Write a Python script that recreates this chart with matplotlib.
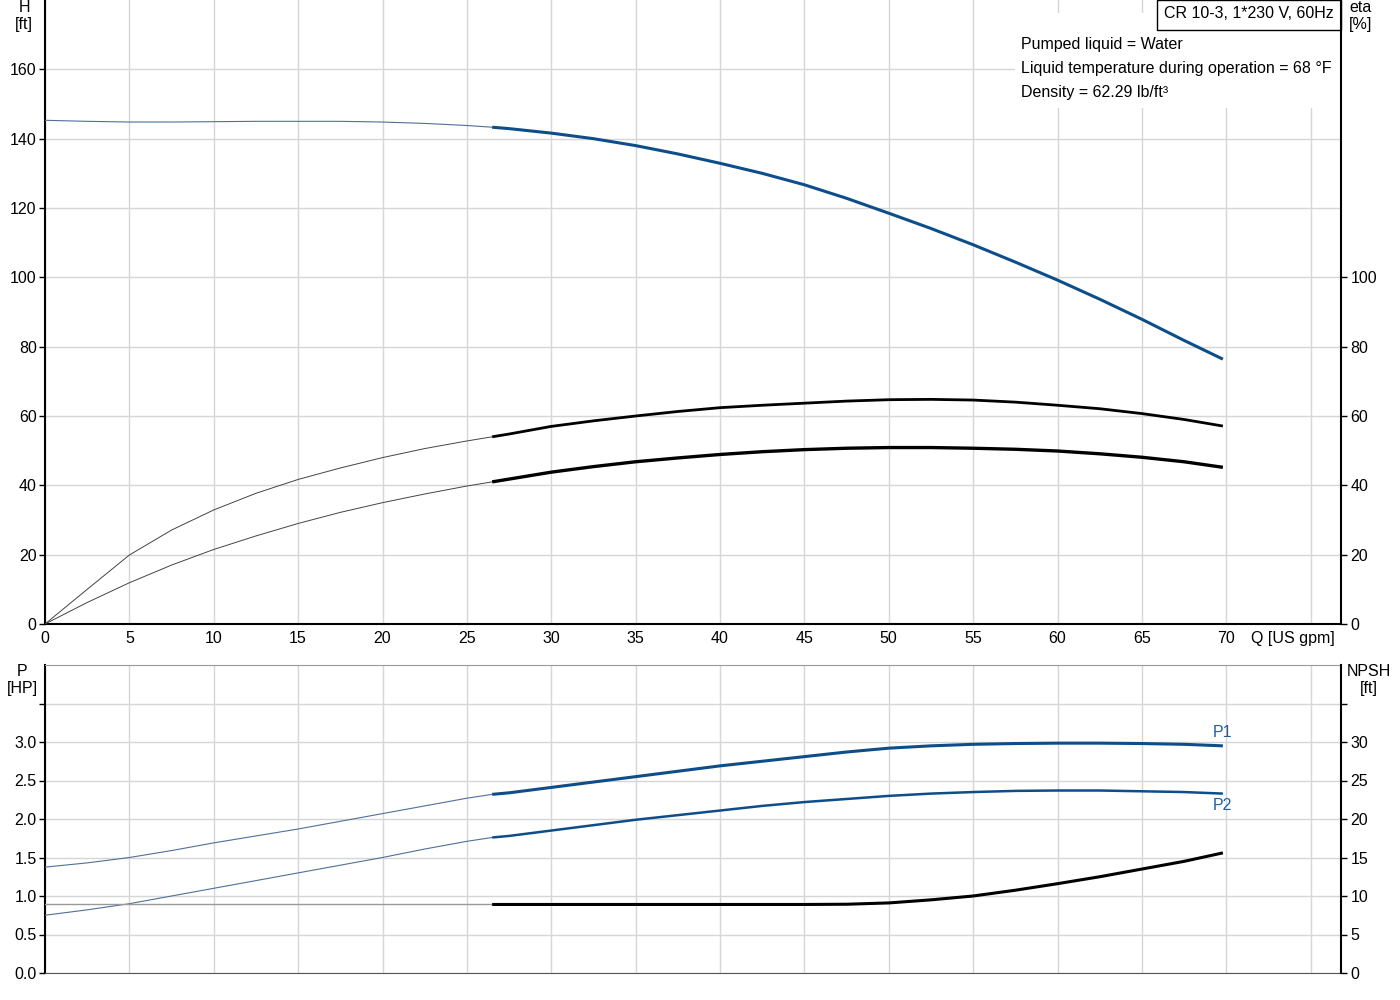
import matplotlib
matplotlib.use("Agg")
import matplotlib.pyplot as plt
from matplotlib.patches import Rectangle
import numpy as np

plt.rcParams['font.family'] = ['Liberation Sans', 'DejaVu Sans']
plt.rcParams['font.size'] = 11.5

# ---------------- data ----------------
q_split = 26.5

# Head curve H [ft]
q_head = [0, 2.5, 5, 7.5, 10, 12.5, 15, 17.5, 20, 22.5, 25, 26.5, 27.5, 30, 32.5, 35, 37.5,
          40, 42.5, 45, 47.5, 50, 52.5, 55, 57.5, 60, 62.5, 65, 67.5, 69.8]
h_head = [145.3, 145.0, 144.8, 144.8, 144.9, 145.0, 145.0, 145.0, 144.8, 144.4, 143.8, 143.3, 142.9,
          141.6, 140.0, 138.0, 135.6, 132.9, 130.0, 126.7, 122.8, 118.5, 114.1, 109.4, 104.4,
          99.2, 93.7, 87.9, 81.8, 76.4]

# Efficiency curves eta [%]
q_eta = [0, 2.5, 5, 7.5, 10, 12.5, 15, 17.5, 20, 22.5, 25, 26.5, 27.5, 30, 32.5, 35, 37.5,
         40, 42.5, 45, 47.5, 50, 52.5, 55, 57.5, 60, 62.5, 65, 67.5, 69.8]
eta_upper = [0, 10.0, 19.9, 27.1, 32.9, 37.7, 41.7, 45.0, 48.0, 50.6, 52.8, 54.0, 54.8, 57.0,
             58.6, 60.0, 61.3, 62.4, 63.1, 63.7, 64.3, 64.7, 64.8, 64.6, 64.0, 63.1, 62.1,
             60.7, 59.0, 57.1]
eta_lower = [0, 6.2, 11.9, 17.0, 21.5, 25.4, 29.0, 32.2, 35.0, 37.5, 39.8, 41.0, 41.8, 43.8,
             45.4, 46.8, 47.9, 48.9, 49.7, 50.3, 50.7, 50.9, 50.9, 50.7, 50.4, 49.9, 49.1,
             48.1, 46.8, 45.2]

# Power curves P [HP]
q_pow = [0, 2.5, 5, 7.5, 10, 12.5, 15, 17.5, 20, 22.5, 25, 26.5, 27.5, 30, 32.5, 35, 37.5,
         40, 42.5, 45, 47.5, 50, 52.5, 55, 57.5, 60, 62.5, 65, 67.5, 69.8]
p1 = [1.375, 1.43, 1.50, 1.59, 1.69, 1.78, 1.87, 1.97, 2.07, 2.17, 2.27, 2.32, 2.34, 2.41,
      2.48, 2.55, 2.62, 2.69, 2.75, 2.81, 2.87, 2.92, 2.95, 2.97, 2.98, 2.985, 2.985, 2.98,
      2.97, 2.95]
p2 = [0.75, 0.82, 0.90, 1.00, 1.10, 1.20, 1.30, 1.40, 1.50, 1.61, 1.71, 1.76, 1.78, 1.85,
      1.92, 1.99, 2.05, 2.11, 2.17, 2.22, 2.26, 2.30, 2.33, 2.35, 2.365, 2.37, 2.37, 2.36,
      2.35, 2.33]

# NPSH [ft]
q_npsh = [0, 10, 20, 26.5, 30, 35, 40, 45, 47.5, 50, 52.5, 55, 57.5, 60, 62.5, 65, 67.5, 69.8]
npsh = [8.9, 8.9, 8.9, 8.9, 8.9, 8.9, 8.9, 8.9, 8.93, 9.1, 9.5, 10.0, 10.75, 11.6, 12.5,
        13.5, 14.5, 15.6]

x_ticks = [0, 5, 10, 15, 20, 25, 30, 35, 40, 45, 50, 55, 60, 65, 70]
h_ticks = [0, 20, 40, 60, 80, 100, 120, 140, 160]
eta_ticks = [0, 20, 40, 60, 80, 100]
p_ticks = [0.0, 0.5, 1.0, 1.5, 2.0, 2.5, 3.0, 3.5]
p_labels = ['0.0', '0.5', '1.0', '1.5', '2.0', '2.5', '3.0', '']
npsh_ticks = [0, 5, 10, 15, 20, 25, 30, 35]
npsh_labels = ['0', '5', '10', '15', '20', '25', '30', '']

title_text = "CR 10-3, 1*230 V, 60Hz"
info_lines = ["Pumped liquid = Water",
              "Liquid temperature during operation = 68 °F",
              "Density = 62.29 lb/ft³"]

# ---------------- style ----------------
BLUE = '#0d4d8a'
BLUE_THIN = '#50709a'
LBL_BLUE = '#1f5f9f'
GRID = '#d6d6d6'
W, H = 1400, 1000
XMAX = 76.8
FS = 11.5


def split(q, v):
    q = np.asarray(q, float); v = np.asarray(v, float)
    a = q <= q_split
    b = q >= q_split
    return (q[a], v[a]), (q[b], v[b])


def fx(px):
    return px / W


def fy(py):
    return 1 - py / H


fig = plt.figure(figsize=(14, 10), dpi=100)

# ---------------- top plot ----------------
ax = fig.add_axes([fx(45), fy(624), fx(1341) - fx(45), fy(0) - fy(624)])
ax.set_xlim(0, XMAX)
ax.set_ylim(0, 180)
ax.set_xticks(x_ticks + [75])
ax.set_xticklabels([str(t) for t in x_ticks] + [''])
ax.set_yticks(h_ticks)
ax.grid(True, color=GRID, lw=1.0)
ax.set_axisbelow(True)
ax.spines['top'].set_visible(False)
ax.spines['right'].set_visible(False)
for s in ['left', 'bottom']:
    ax.spines[s].set_color('black')
    ax.spines[s].set_linewidth(1.5)
ax.tick_params(axis='y', length=4, width=1, pad=2, labelsize=FS)
ax.tick_params(axis='x', length=0, pad=5, labelsize=FS)

axe = ax.twinx()
axe.set_ylim(0, 180)
axe.set_yticks(eta_ticks)
axe.set_xlim(0, XMAX)
for s in ['top', 'left', 'bottom']:
    axe.spines[s].set_visible(False)
axe.spines['right'].set_color('black')
axe.spines['right'].set_linewidth(1.5)
axe.tick_params(axis='y', length=4, width=1, pad=3, labelsize=FS)

# white box behind parameters
ax.add_patch(Rectangle((fx(1015), fy(108)), fx(1341) - fx(1015), fy(13) - fy(108),
                       transform=fig.transFigure, facecolor='white', edgecolor='none', zorder=1))
# title box
ax.add_patch(Rectangle((fx(1157), fy(30)), fx(1341) - fx(1157), fy(0) - fy(30),
                       transform=fig.transFigure, facecolor='white', edgecolor='black',
                       lw=1.0, zorder=3, clip_on=False))
fig.text(fx(1249), fy(13), title_text, ha='center', va='center', fontsize=11.5, zorder=4)
for i, line in enumerate(info_lines):
    fig.text(fx(1021), fy(44 + 24 * i), line, ha='left', va='center', fontsize=11.5)

(a_q, a_v), (b_q, b_v) = split(q_head, h_head)
ax.plot(a_q, a_v, color=BLUE_THIN, lw=0.8, zorder=3)
ax.plot(b_q, b_v, color=BLUE, lw=2.2, zorder=3, solid_capstyle='butt')

for vals, lw in ((eta_upper, 2.0), (eta_lower, 2.4)):
    (a_q, a_v), (b_q, b_v) = split(q_eta, vals)
    axe.plot(a_q, a_v, color='#444444', lw=0.7, zorder=3)
    axe.plot(b_q, b_v, color='black', lw=lw, zorder=3, solid_capstyle='butt')

fig.text(fx(24), fy(0), "H\n[ft]", ha='center', va='top', fontsize=FS, linespacing=1.15)
fig.text(fx(1361), fy(0), "eta\n[%]", ha='center', va='top', fontsize=FS, linespacing=1.15)
fig.text(fx(1251), fy(639), "Q [US gpm]", ha='left', va='center', fontsize=FS)

# ---------------- bottom plot ----------------
bx = fig.add_axes([fx(45), fy(973), fx(1341) - fx(45), fy(665) - fy(973)])
bx.set_xlim(0, XMAX)
bx.set_ylim(0, 4.0)
bx.set_xticks(x_ticks + [75])
bx.set_xticklabels([])
bx.set_yticks(p_ticks)
bx.set_yticklabels(p_labels)
bx.grid(True, color=GRID, lw=1.0)
bx.set_axisbelow(True)
bx.spines['top'].set_color('#999999')
bx.spines['bottom'].set_color('#555555')
bx.spines['right'].set_visible(False)
bx.spines['left'].set_color('black')
bx.spines['left'].set_linewidth(1.5)
bx.tick_params(axis='y', length=4, width=1, pad=2, labelsize=FS)
bx.tick_params(axis='x', length=0)

bn = bx.twinx()
bn.set_ylim(0, 40)
bn.set_yticks(npsh_ticks)
bn.set_yticklabels(npsh_labels)
bn.set_xlim(0, XMAX)
for s in ['top', 'left', 'bottom']:
    bn.spines[s].set_visible(False)
bn.spines['right'].set_color('black')
bn.spines['right'].set_linewidth(1.5)
bn.tick_params(axis='y', length=4, width=1, pad=3, labelsize=FS)

for vals, lw in ((p1, 2.2), (p2, 1.8)):
    (a_q, a_v), (b_q, b_v) = split(q_pow, vals)
    bx.plot(a_q, a_v, color=BLUE_THIN, lw=0.8, zorder=3)
    bx.plot(b_q, b_v, color=BLUE, lw=lw, zorder=3, solid_capstyle='butt')

(a_q, a_v), (b_q, b_v) = split(q_npsh, npsh)
bn.plot(a_q, a_v, color='#999999', lw=1.0, zorder=3)
bn.plot(b_q, b_v, color='black', lw=2.2, zorder=3, solid_capstyle='butt')

bx.text(q_pow[-1], p1[-1] + 0.08, "P1", color=LBL_BLUE, ha='center', va='bottom', fontsize=FS)
bx.text(q_pow[-1], p2[-1] - 0.06, "P2", color=LBL_BLUE, ha='center', va='top', fontsize=FS)

fig.text(fx(22), fy(664), "P\n[HP]", ha='center', va='top', fontsize=FS, linespacing=1.15)
fig.text(fx(1369), fy(664), "NPSH\n[ft]", ha='center', va='top', fontsize=FS, linespacing=1.15)

fig.savefig("out.png", dpi=100)
